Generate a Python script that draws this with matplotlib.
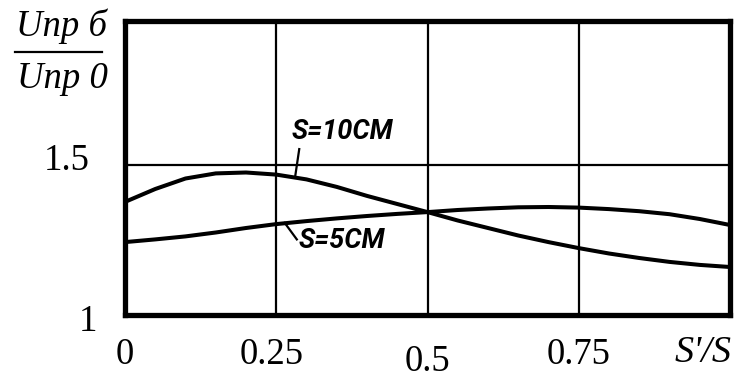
import matplotlib
matplotlib.use("Agg")
import matplotlib.pyplot as plt
from matplotlib.lines import Line2D

# relative position S'/S
x_pos = [0.0, 0.05, 0.1, 0.15, 0.2, 0.25, 0.3, 0.35, 0.4, 0.45, 0.5,
         0.55, 0.6, 0.65, 0.7, 0.75, 0.8, 0.85, 0.9, 0.95, 1.0]
# Unp б / Unp 0 for S = 10 cm
ratio_s10 = [1.377, 1.420, 1.455, 1.472, 1.475, 1.468, 1.452, 1.427, 1.397, 1.370, 1.343,
             1.315, 1.290, 1.265, 1.243, 1.223, 1.205, 1.190, 1.177, 1.167, 1.160]
# Unp б / Unp 0 for S = 5 cm
ratio_s5 = [1.243, 1.252, 1.262, 1.275, 1.290, 1.303, 1.313, 1.322, 1.330, 1.337, 1.343,
            1.350, 1.355, 1.359, 1.360, 1.358, 1.353, 1.346, 1.336, 1.320, 1.300]

x_ticks = [0, 0.25, 0.5, 0.75]
x_tick_labels = ['0', '0.25', '0.5', '0.75']
y_grid = [1.5]

serif = 'Liberation Serif'
hand = ['Roboto', 'DejaVu Sans']
fs = 26.5

fig = plt.figure(figsize=(7.43, 3.79), dpi=100)
ax = fig.add_axes([125 / 743, (379 - 315) / 379, 605 / 743, 294 / 379])
ax.set_xlim(0, 1)
ax.set_ylim(1, 1.98)

for xv in x_ticks[1:]:
    ax.axvline(xv, color='black', linewidth=1.6)
for yv in y_grid:
    ax.axhline(yv, color='black', linewidth=1.6)

ax.plot(x_pos, ratio_s10, color='black', linewidth=2.9, solid_capstyle='butt')
ax.plot(x_pos, ratio_s5, color='black', linewidth=2.9, solid_capstyle='butt')

for sp in ax.spines.values():
    sp.set_linewidth(3.8)
ax.set_xticks([])
ax.set_yticks([])

# tick labels
xt = ax.get_xaxis_transform()
for xv, lab in zip(x_ticks, x_tick_labels):
    dy = -0.16 if lab == '0.5' else -0.135
    ax.text(xv - (0.008 if lab == '0.25' else 0), dy, lab, transform=xt,
            ha='center', va='center', fontsize=fs, family=serif)
ax.text(0.955, -0.13, "S'/S", transform=xt, ha='center', va='center',
        fontsize=fs + 1, family=serif, style='italic')

yt = ax.get_yaxis_transform()
ax.text(-0.058, 1.513, '1.5', transform=yt, ha='right', va='center',
        fontsize=fs, family=serif)
ax.text(-0.046, 0.977, '1', transform=yt, ha='right', va='center',
        fontsize=fs, family=serif)

# curve labels with leader lines
ax.text(0.36, 1.613, 'S=10CM', ha='center', va='center', fontsize=19.5,
        family=hand, weight='bold', style='italic')
ax.plot([0.288, 0.281], [1.553, 1.458], color='black', linewidth=1.6)
ax.text(0.359, 1.247, 'S=5CM', ha='center', va='center', fontsize=19.5,
        family=hand, weight='bold', style='italic')
ax.plot([0.264, 0.284], [1.307, 1.252], color='black', linewidth=1.6)

# y axis quantity as a fraction
fig.text(62 / 743, 1 - 36 / 379, 'Unp б', ha='center', va='baseline',
         fontsize=fs, family=serif, style='italic')
fig.text(62 / 743, 1 - 88 / 379, 'Unp 0', ha='center', va='baseline',
         fontsize=fs, family=serif, style='italic')
fig.add_artist(Line2D([15 / 743, 102 / 743], [1 - 52 / 379, 1 - 52 / 379],
                      color='black', linewidth=1.6, transform=fig.transFigure))

fig.savefig('out.png', dpi=100)
